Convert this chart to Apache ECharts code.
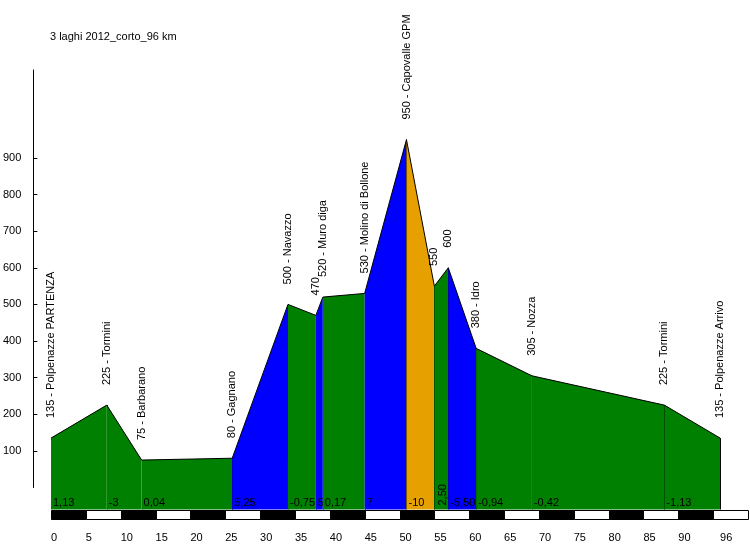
<!DOCTYPE html>
<html><head><meta charset="utf-8">
<script src="https://cdn.jsdelivr.net/npm/echarts@6/dist/echarts.min.js"></script>
<style>html,body{margin:0;padding:0;background:#fff}#c{width:750px;height:550px}</style>
</head><body><div id="c"></div>
<script>
const chartTitle = '3 laghi 2012_corto_96 km';
// profile points: distance (km) and altitude (m)
const km  = [0, 8, 13, 26, 34, 38, 39, 45, 51, 55, 57, 61, 69, 88, 96];
const alt = [135, 225, 75, 80, 500, 470, 520, 530, 950, 550, 600, 380, 305, 225, 135];
const pointNames = ['Polpenazze PARTENZA', 'Tormini', 'Barbarano', 'Gagnano', 'Navazzo', '', 'Muro diga',
  'Molino di Bollone', 'Capovalle GPM', '', '', 'Idro', 'Nozza', 'Tormini', 'Polpenazze Arrivo'];
// gradient (%) of each segment and its class (g = flat/descent, b = climb, o = steep descent)
const gradients = ['1,13', '-3', '0,04', '5,25', '-0,75', '5', '0,17', '7', '-10', '2,50', '-5,50', '-0,94', '-0,42', '-1,13'];
const segClass  = ['g', 'g', 'g', 'b', 'g', 'b', 'g', 'b', 'o', 'g', 'b', 'g', 'g', 'g'];
// scale bar bands (km)
const bandStart = [0, 5, 10, 15, 20, 25, 30, 35, 40, 45, 50, 55, 60, 65, 70, 75, 80, 85, 90, 95];
const bandEnd   = [5, 10, 15, 20, 25, 30, 35, 40, 45, 50, 55, 60, 65, 70, 75, 80, 85, 90, 95, 100];
// tick labels
const xTicks = [0, 5, 10, 15, 20, 25, 30, 35, 40, 45, 50, 55, 60, 65, 70, 75, 80, 85, 90, 96];
const yTicks = [100, 200, 300, 400, 500, 600, 700, 800, 900];

const FONT_FAMILY = '"Liberation Sans", Arial, sans-serif';
const FONT = '11px ' + FONT_FAMILY;
const COLORS = { g: '#008000', b: '#0000FF', o: '#E6A000' };
const Y_MIN = -60, Y_MAX = 1140, X_MAX = 100;

const measureCtx = document.createElement('canvas').getContext('2d');
measureCtx.font = FONT;

const segData = [];
for (let i = 0; i < km.length - 1; i++) segData.push([km[i], alt[i], km[i + 1], alt[i + 1], i]);
const labelData = km.map((k, i) => [k, alt[i], i]);
const bandData = bandStart.map((s, i) => [s, bandEnd[i], i]);

const chart = echarts.init(document.getElementById('c'), null, { renderer: 'canvas' });
chart.setOption({
  animation: false,
  backgroundColor: '#fff',
  title: { text: chartTitle, left: 50, top: 31, padding: 0, textStyle: { fontSize: 11, fontWeight: 'normal', color: '#000', fontFamily: FONT_FAMILY } },
  grid: [
    { left: 51, width: 697, top: 70, height: 439.5 },
    { left: 33, width: 697, top: 70, height: 417.5 },
    { left: 51, width: 697, top: 510, height: 9 }
  ],
  xAxis: [
    { gridIndex: 0, type: 'value', min: 0, max: X_MAX, show: false },
    { gridIndex: 1, type: 'value', min: 0, max: X_MAX, show: false },
    { gridIndex: 2, type: 'value', min: 0, max: X_MAX,
      axisLine: { show: false }, axisTick: { show: false }, splitLine: { show: false },
      axisLabel: { customValues: xTicks, align: 'left', margin: 13, fontSize: 11, color: '#000', fontFamily: FONT_FAMILY } }
  ],
  yAxis: [
    { gridIndex: 0, type: 'value', min: Y_MIN, max: Y_MAX, show: false },
    { gridIndex: 1, type: 'value', min: 0, max: Y_MAX,
      axisLine: { show: true, lineStyle: { color: '#000', width: 1 } },
      axisTick: { show: true, inside: true, length: 4, customValues: yTicks, lineStyle: { color: '#000' } },
      axisLabel: { customValues: yTicks, margin: 12, fontSize: 11, color: '#000', fontFamily: FONT_FAMILY },
      splitLine: { show: false } },
    { gridIndex: 2, type: 'value', min: 0, max: 1, show: false }
  ],
  series: [
    {
      type: 'custom', xAxisIndex: 0, yAxisIndex: 0, clip: false,
      data: segData,
      renderItem: function (params, api) {
        const x0 = api.value(0), y0 = api.value(1), x1 = api.value(2), y1 = api.value(3), i = api.value(4);
        const p0 = api.coord([x0, y0]), p1 = api.coord([x1, y1]);
        const b0 = api.coord([x0, Y_MIN]), b1 = api.coord([x1, Y_MIN]);
        const vx = Math.round(p1[0]) + 0.5;
        const children = [
          { type: 'polygon', shape: { points: [b0, p0, p1, b1] }, style: { fill: COLORS[segClass[i]], stroke: null } },
          { type: 'line', shape: { x1: p0[0], y1: p0[1], x2: p1[0], y2: p1[1] }, style: { stroke: '#000', lineWidth: 1 } },
          { type: 'line', shape: { x1: vx, y1: p1[1], x2: vx, y2: b1[1] }, style: { stroke: '#000', lineWidth: 1 } }
        ];
        const txt = gradients[i];
        const w = p1[0] - p0[0];
        const tw = measureCtx.measureText(txt).width;
        if (tw <= w) {
          children.push({ type: 'text', x: p0[0] + 2, y: b0[1] - 7,
            style: { text: txt, fill: '#000', font: FONT, align: 'left', verticalAlign: 'middle' } });
        } else {
          children.push({ type: 'text', x: p0[0] + 9, y: b0[1] - 4, rotation: Math.PI / 2,
            style: { text: txt, fill: '#000', font: FONT, align: 'left', verticalAlign: 'middle' } });
        }
        return { type: 'group', children: children };
      }
    },
    {
      type: 'custom', xAxisIndex: 0, yAxisIndex: 0, clip: false,
      data: labelData,
      renderItem: function (params, api) {
        const i = api.value(2);
        const p = api.coord([api.value(0), api.value(1)]);
        const name = pointNames[i];
        const txt = alt[i] + (name ? ' - ' + name : '');
        return { type: 'text', x: p[0], y: p[1] - 20, rotation: Math.PI / 2,
          style: { text: txt, fill: '#000', font: FONT, align: 'left', verticalAlign: 'middle' } };
      }
    },
    {
      type: 'custom', xAxisIndex: 2, yAxisIndex: 2, clip: false,
      data: bandData,
      renderItem: function (params, api) {
        const p0 = api.coord([api.value(0), 1]), p1 = api.coord([api.value(1), 0]);
        const black = api.value(2) % 2 === 0;
        return { type: 'rect',
          shape: { x: Math.round(p0[0]) + 0.5, y: Math.round(p0[1]) + 0.5, width: Math.round(p1[0]) - Math.round(p0[0]), height: Math.round(p1[1]) - Math.round(p0[1]) },
          style: { fill: black ? '#000' : '#fff', stroke: '#000', lineWidth: 1 } };
      }
    }
  ]
});
</script></body></html>
